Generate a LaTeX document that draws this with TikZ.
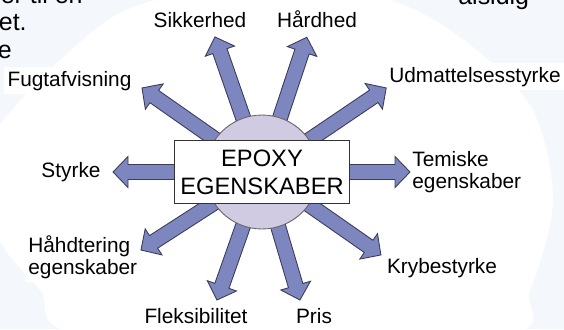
\documentclass[tikz,border=0pt]{standalone}
\usepackage{fontspec}
\setmainfont{Liberation Sans}
\usepackage{tikz}
\definecolor{paleBlue}{HTML}{F4F8FC}
\definecolor{spokeBlue}{HTML}{7E86BF}
\definecolor{spokeEdge}{HTML}{3A3D55}
\definecolor{hubLilac}{HTML}{D0CAE2}
\newcommand{\lblfont}{\fontsize{11.85}{12.5}\selectfont}

\begin{document}
\begin{tikzpicture}[x=0.02cm, y=0.02cm,
  lbl/.style={font=\lblfont, fill=white, inner sep=2pt},
  spoke/.style={fill=spokeBlue, draw=spokeEdge, line width=0.5pt, line join=miter},
  frag/.style={font=\fontsize{14.2}{16}\selectfont, inner sep=0pt}]
  \useasboundingbox (0,0) rectangle (564,329);
  \clip (0,0) rectangle (564,329);
  \fill[paleBlue] (0,0) rectangle (564,329);
  \fill[white] plot[smooth cycle] coordinates {(120,316) (200,337) (360,337) (450,299) (530,224) (553,129) (530,39) (497,-6) (90,-6) (40,39) (-5,99) (-5,189) (12,219) (60,269)};
  \node[frag, anchor=base east] (fragA) at (83,326) {er til en};
  \node[frag, anchor=base east] (fragB) at (27,299) {tet.};
  \node[frag, anchor=base east] (fragC) at (12,271) {e};
  \node[frag, anchor=base west] (fragD) at (458,325) {alsidig};
  \coordinate (core) at (262,157);
  \node[lbl, anchor=base] (sikkerhed) at (200,302) {Sikkerhed};
  \node[lbl, anchor=base] (haardhed) at (317,302) {Hårdhed};
  \node[lbl, anchor=base] (fugt) at (69.5,243) {Fugtafvisning};
  \node[lbl, anchor=base] (udmat) at (475,247) {Udmattelsesstyrke};
  \node[lbl, anchor=base] (styrke) at (71,152) {Styrke};
  \node[lbl, anchor=west, align=left] (termisk) at (408.5,157.2) {Temiske\\egenskaber};
  \node[lbl, anchor=base] (kryb) at (442,56) {Krybestyrke};
  \node[lbl, anchor=base] (pris) at (314,6) {Pris};
  \node[lbl, anchor=base] (fleks) at (196,6) {Fleksibilitet};
  \node[lbl, anchor=west, align=left] (haandtering) at (24.5,72) {Håhdtering\\egenskaber};
  \foreach \a/\l in {180/149, 0/148, 109.2/143, 71.6/142, 145/146.5, 34.1/150, -34.9/145, -73.5/133.5, -109.4/135.7, -147.2/144} {
    \begin{scope}[shift={(core)}, rotate=\a]
      \filldraw[spoke] (0,-7.5) -- (\l-15,-7.5) -- (\l-15,-15.5) -- (\l,0) -- (\l-15,15.5) -- (\l-15,7.5) -- (0,7.5) -- cycle;
    \end{scope}
  }
  \draw[fill=hubLilac, draw=gray!80!black, line width=0.5pt] (core) circle (1.14cm);
  \node[draw=black!80, fill=white, line width=0.6pt, minimum width=3.5cm, minimum height=1.26cm, align=center,
        font=\fontsize{13.5}{15.9}\selectfont] (hub) at (core) {EPOXY\\EGENSKABER};
\end{tikzpicture}
\end{document}
